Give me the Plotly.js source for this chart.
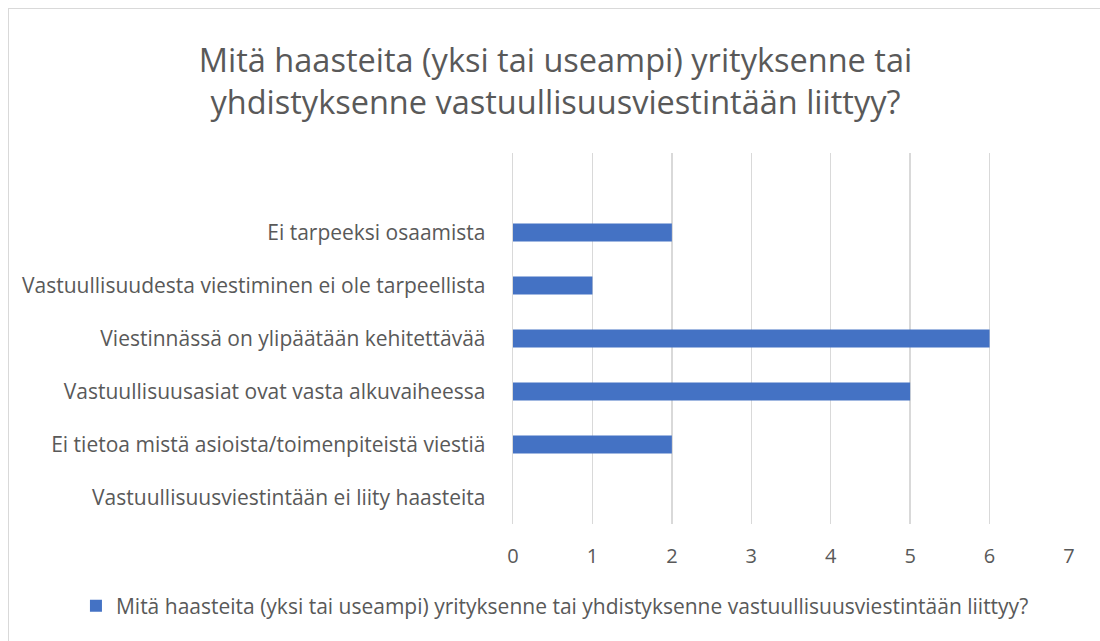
<!DOCTYPE html>
<html>
<head>
<meta charset="utf-8">
<script src="https://cdn.plot.ly/plotly-3.0.1.min.js"></script>
<style>
html,body{margin:0;padding:0;background:#fff;}
#wrap{position:relative;width:1100px;height:641px;overflow:hidden;}
#chart{position:absolute;left:0;top:0;width:1100px;height:641px;}
#frame{position:absolute;left:8px;top:8px;width:1100px;height:700px;border-left:1px solid #d9d9d9;border-top:1px solid #d9d9d9;pointer-events:none;}
</style>
</head>
<body>
<div id="wrap"><div id="chart"></div><div id="frame"></div></div>
<script>
const categories = [
  "Vastuullisuusviestintään ei liity haasteita",
  "Ei tietoa mistä asioista/toimenpiteistä viestiä",
  "Vastuullisuusasiat ovat vasta alkuvaiheessa",
  "Viestinnässä on ylipäätään kehitettävää",
  "Vastuullisuudesta viestiminen ei ole tarpeellista",
  "Ei tarpeeksi osaamista"
];
const values = [0, 2, 5, 6, 1, 2];
const seriesName = "Mitä haasteita (yksi tai useampi) yrityksenne tai yhdistyksenne vastuullisuusviestintään liittyy?";
const titleText = "Mitä haasteita (yksi tai useampi) yrityksenne tai<br>yhdistyksenne vastuullisuusviestintään liittyy?";
const xTicks = [0,1,2,3,4,5,6,7];

const font = "'Open Sans', sans-serif";
const txt = "#595959";

Plotly.newPlot("chart", [{
  type: "bar",
  orientation: "h",
  y: categories,
  x: values,
  name: seriesName,
  marker: {color: "#4472C4"},
  showlegend: true
}], {
  width: 1100, height: 641,
  paper_bgcolor: "rgba(0,0,0,0)",
  plot_bgcolor: "rgba(0,0,0,0)",
  margin: {l: 513, r: 31, t: 153, b: 117},
  font: {family: font, color: txt, size: 20},
  title: {
    text: titleText,
    font: {family: font, size: 32.5, color: txt},
    x: 0.505, xanchor: "center",
    yref: "container", y: 1 - 72/641, yanchor: "middle"
  },
  bargap: 0.66,
  xaxis: {
    range: [0, 7],
    tickvals: xTicks,
    ticktext: xTicks.map(String),
    showgrid: true, gridcolor: "#d9d9d9", gridwidth: 1.3,
    zeroline: false, showline: false,
    ticks: "outside", ticklen: 14, tickcolor: "rgba(0,0,0,0)",
    tickfont: {family: font, size: 20, color: txt},
    fixedrange: true
  },
  yaxis: {
    type: "category",
    categoryorder: "array", categoryarray: categories,
    range: [-0.5, 6.5],
    showgrid: false, zeroline: false,
    showline: true, linecolor: "#d9d9d9", linewidth: 1.3,
    ticks: "outside", ticklen: 22, tickcolor: "rgba(0,0,0,0)",
    tickfont: {family: font, size: 21, color: txt},
    fixedrange: true
  },
  legend: {
    orientation: "h",
    x: 0.5045, xanchor: "center", xref: "container",
    y: 1 - 606/641, yanchor: "middle", yref: "container",
    font: {family: font, size: 21, color: txt},
    itemwidth: 30
  }
}, {displayModeBar: false, staticPlot: true});
</script>
</body>
</html>
